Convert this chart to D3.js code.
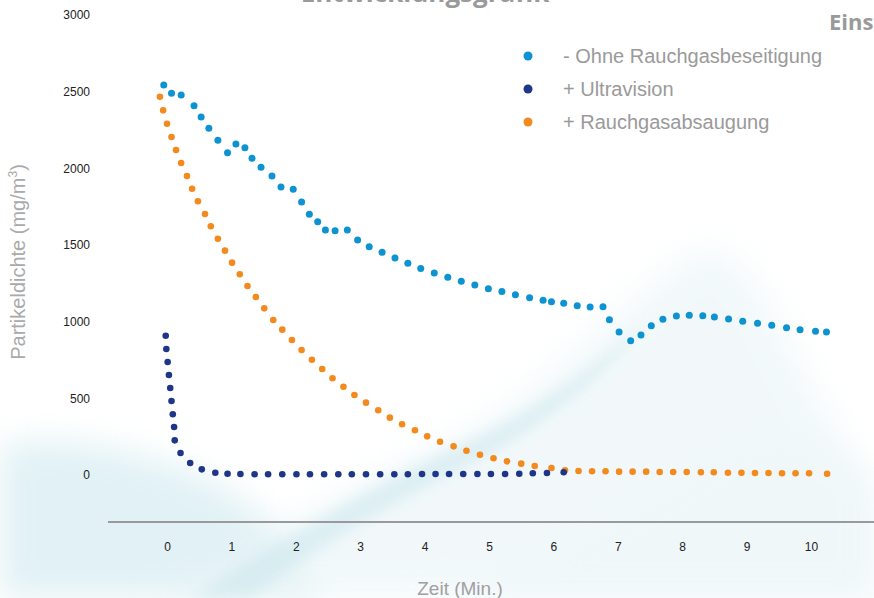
<!DOCTYPE html>
<html>
<head>
<meta charset="utf-8">
<script src="https://cdn.jsdelivr.net/npm/d3@7"></script>
<style>
  html, body { margin: 0; padding: 0; background: #ffffff; }
  svg { display: block; }
</style>
</head>
<body>
<script>
// ---------- DATA ----------
const xTicks = [0, 1, 2, 3, 4, 5, 6, 7, 8, 9, 10];
const yTicks = [0, 500, 1000, 1500, 2000, 2500, 3000];

const seriesNames = ["- Ohne Rauchgasbeseitigung", "+ Ultravision", "+ Rauchgasabsaugung"];

const timeOhne = [-0.05,0.07,0.22,0.42,0.53,0.65,0.79,0.94,1.07,1.21,1.32,1.46,1.63,1.77,1.96,2.09,2.21,2.34,2.46,2.61,2.80,2.96,3.14,3.34,3.54,3.74,3.94,4.15,4.36,4.57,4.78,4.99,5.20,5.41,5.63,5.84,5.97,6.16,6.37,6.57,6.77,6.87,7.02,7.20,7.36,7.52,7.70,7.91,8.11,8.32,8.50,8.72,8.94,9.17,9.39,9.62,9.83,10.07,10.24];
const valOhne = [2543,2489,2478,2408,2335,2261,2183,2102,2159,2135,2065,2007,1950,1878,1863,1780,1700,1652,1598,1593,1598,1533,1489,1452,1415,1381,1346,1317,1289,1263,1239,1215,1196,1176,1156,1139,1130,1120,1104,1096,1098,1013,933,876,913,974,1015,1037,1042,1039,1030,1017,1002,989,976,961,948,937,933];

const timeAbsaug = [-0.11,-0.06,0.00,0.07,0.14,0.22,0.31,0.39,0.48,0.59,0.68,0.79,0.90,1.01,1.13,1.25,1.38,1.51,1.65,1.79,1.94,2.09,2.25,2.41,2.57,2.74,2.91,3.09,3.28,3.46,3.65,3.85,4.04,4.24,4.45,4.65,4.86,5.07,5.28,5.50,5.71,5.97,6.18,6.39,6.60,6.81,7.02,7.23,7.44,7.65,7.86,8.07,8.29,8.49,8.71,8.92,9.13,9.34,9.55,9.76,9.97,10.25];
const valAbsaug = [2467,2378,2291,2204,2120,2035,1950,1867,1785,1702,1622,1541,1463,1385,1309,1233,1161,1087,1011,948,880,815,752,691,631,576,522,472,422,374,331,292,252,217,187,158,132,109,89,74,59,46,31,26,24,24,22,22,22,20,20,20,18,18,15,15,13,13,11,11,11,8];

const timeUltra = [-0.02,-0.01,0.01,0.03,0.05,0.07,0.09,0.11,0.12,0.21,0.36,0.54,0.75,0.94,1.14,1.36,1.57,1.79,2.01,2.22,2.44,2.66,2.87,3.09,3.31,3.53,3.74,3.96,4.17,4.38,4.60,4.82,5.03,5.25,5.47,5.68,5.90,6.16];
const valUltra = [908,822,737,652,567,483,396,313,226,143,78,37,15,8,7,5,5,5,5,5,5,5,5,5,5,5,5,7,7,7,7,7,7,7,8,11,13,18];

// ---------- LAYOUT ----------
const W = 874, H = 598;
const colors = { ohne: "#0d92d2", ultra: "#1f3688", absaug: "#f28a1e" };

const svg = d3.select("body").append("svg")
  .attr("width", W).attr("height", H)
  .style("font-family", "'Liberation Sans', Arial, sans-serif");

// background wisps
const defs = svg.append("defs");
defs.append("filter").attr("id", "blur").attr("x", "-20%").attr("y", "-20%").attr("width", "140%").attr("height", "140%")
  .append("feGaussianBlur").attr("stdDeviation", 16);
defs.append("filter").attr("id", "blur2").attr("x", "-20%").attr("y", "-20%").attr("width", "140%").attr("height", "140%")
  .append("feGaussianBlur").attr("stdDeviation", 7);

const bg = svg.append("g");
bg.append("rect").attr("width", W).attr("height", H).attr("fill", "#ffffff");
bg.append("path")
  .attr("d", "M0,445 C60,435 120,445 200,475 C260,505 300,545 320,598 L0,598 Z")
  .attr("fill", "#d8edf2").attr("opacity", 0.75).attr("filter", "url(#blur)");
bg.append("path")
  .attr("d", "M150,598 C260,540 380,470 470,430 C560,380 640,280 700,250 C740,240 770,300 800,360 C830,420 860,470 874,500 L874,598 Z")
  .attr("fill", "#eaf5f8").attr("opacity", 0.6).attr("filter", "url(#blur)");
bg.append("path")
  .attr("d", "M190,598 C280,540 380,480 460,445 C540,410 600,360 650,320 C600,380 540,430 470,465 C390,505 300,560 250,598 Z")
  .attr("fill", "#cbe6ec").attr("opacity", 0.55).attr("filter", "url(#blur2)");
bg.append("path")
  .attr("d", "M420,598 C520,560 600,520 680,470 C740,430 780,420 820,440 C850,460 874,470 874,480 L874,598 Z")
  .attr("fill", "#eff7f9").attr("opacity", 0.7).attr("filter", "url(#blur)");

// ---------- SCALES ----------
const x = d3.scaleLinear().domain([0, 10]).range([167, 811]);
const y = d3.scaleLinear().domain([0, 3000]).range([475, 15]);

// titles (partly outside the frame, as in the reference)
svg.append("text").attr("x", 425).attr("y", 2).attr("text-anchor", "middle")
  .style("font-family", "'Open Sans', 'Noto Sans', sans-serif")
  .attr("font-size", 26).attr("font-weight", "bold").attr("fill", "#9a9a9a")
  .text("Entwicklungsgrafik");
svg.append("text").attr("x", 829).attr("y", 30)
  .style("font-family", "'Open Sans', 'Noto Sans', sans-serif")
  .attr("font-size", 22).attr("font-weight", "bold").attr("fill", "#9a9a9a")
  .text("Einsatzbereich");

// x axis line
svg.append("line").attr("x1", 108).attr("x2", W).attr("y1", 522).attr("y2", 522)
  .attr("stroke", "#9a9a9a").attr("stroke-width", 2);

// x axis tick labels via d3 axis
const xAxis = d3.axisBottom(x).tickValues(xTicks).tickSize(0).tickPadding(0).tickFormat(d3.format("d"));
const gx = svg.append("g").attr("transform", "translate(0,542)").call(xAxis);
gx.select(".domain").remove();
gx.selectAll("text").attr("font-size", 12).attr("fill", "#222")
  .style("font-family", "'Liberation Sans', Arial, sans-serif");

// y axis tick labels
const yAxis = d3.axisLeft(y).tickValues(yTicks).tickSize(0).tickPadding(0).tickFormat(d3.format("d"));
const gy = svg.append("g").attr("transform", "translate(90,0)").call(yAxis);
gy.select(".domain").remove();
gy.selectAll("text").attr("font-size", 12).attr("fill", "#222")
  .style("font-family", "'Liberation Sans', Arial, sans-serif");

// axis titles
svg.append("text").attr("transform", "translate(25,262) rotate(-90)")
  .attr("text-anchor", "middle").attr("font-size", 20).attr("fill", "#aaaaaa")
  .html("Partikeldichte (mg/m<tspan dy='-8' font-size='12'>3</tspan><tspan dy='8'>)</tspan>");
svg.append("text").attr("x", 460).attr("y", 595).attr("text-anchor", "middle")
  .attr("font-size", 19).attr("fill", "#a0a0a0").text("Zeit (Min.)");

// ---------- SERIES ----------
function drawSeries(times, vals, color, r) {
  const pts = times.map((t, i) => ({ t, v: vals[i] }));
  svg.append("g").selectAll("circle").data(pts).enter().append("circle")
    .attr("cx", d => x(d.t)).attr("cy", d => y(d.v)).attr("r", r).attr("fill", color);
}
drawSeries(timeOhne, valOhne, colors.ohne, 3.5);
drawSeries(timeAbsaug, valAbsaug, colors.absaug, 3.3);
drawSeries(timeUltra, valUltra, colors.ultra, 3.3);

// ---------- LEGEND ----------
const legendColors = [colors.ohne, colors.ultra, colors.absaug];
const lg = svg.append("g");
seriesNames.forEach((name, i) => {
  const yy = 56 + i * 33;
  lg.append("circle").attr("cx", 528).attr("cy", yy).attr("r", 4.5).attr("fill", legendColors[i]);
  lg.append("text").attr("x", 563).attr("y", yy + 7).attr("font-size", 20).attr("fill", "#9a9a9a").text(name);
});
</script>
</body>
</html>
